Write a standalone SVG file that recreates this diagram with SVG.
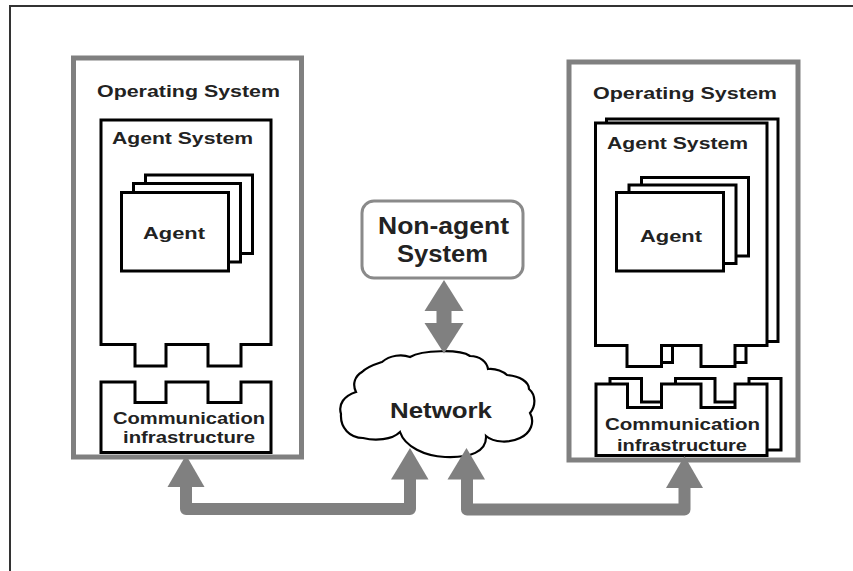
<svg xmlns="http://www.w3.org/2000/svg" width="853" height="571" viewBox="0 0 853 571">
<style>
.os{fill:#fff;stroke:#808080;stroke-width:5}
.blk{fill:#fff;stroke:#000;stroke-width:3}
.t{font-family:"Liberation Sans",Arial,sans-serif;font-weight:bold;fill:#222}
.s16{font-size:16px}
.s17{font-size:17px}
.s22{font-size:22px}
.s23{font-size:23px}
.ar{fill:#808080;stroke:none}
.sh{fill:none;stroke:#808080;stroke-width:12;stroke-linejoin:round}
</style>
<defs>
<path id="asys" d="M0,0 H171.5 V222.5 H139.5 V243.5 H105.5 V222.5 H66 V243.5 H31.5 V222.5 H0 Z"/>
<path id="comm" d="M0,0 H31.5 V23.5 H65.5 V0 H105 V23.5 H139 V0 H171 V71.5 H0 Z"/>
</defs>
<rect x="0" y="0" width="853" height="571" fill="#fff"/>
<g id="frame">
<path d="M10,571 V6 H853" fill="none" stroke="#333" stroke-width="2"/>
</g>

<g id="os-left">
<rect class="os" x="73.5" y="58" width="228" height="399"/>
<text class="t s16" x="97" y="97" textLength="183" lengthAdjust="spacingAndGlyphs">Operating System</text>
</g>
<g id="agent-system-left">
<path class="blk" d="M101,120 H271 V344.5 H241 V366 H208 V344.5 H166 V366 H135 V344.5 H101 Z"/>
<text class="t s16" x="112" y="143.5" textLength="141" lengthAdjust="spacingAndGlyphs">Agent System</text>
</g>
<g id="agent-left">
<rect class="blk" x="145.5" y="175" width="107" height="78.5"/>
<rect class="blk" x="133.5" y="183.5" width="107" height="78.5"/>
<rect class="blk" x="121.5" y="192.5" width="107" height="78.5"/>
<text class="t s17" x="143" y="238.5" textLength="62" lengthAdjust="spacingAndGlyphs">Agent</text>
</g>
<g id="comm-left">
<path class="blk" d="M101,382 H135 V402.5 H166 V382 H208 V402.5 H241 V382 H271 V452.5 H101 Z"/>
<text class="t s16" x="113" y="423.5" textLength="152" lengthAdjust="spacingAndGlyphs">Communication</text>
<text class="t s16" x="123" y="443" textLength="132" lengthAdjust="spacingAndGlyphs">infrastructure</text>
</g>

<g id="os-right">
<rect class="os" x="569" y="62" width="229" height="398"/>
<text class="t s16" x="593" y="98.5" textLength="184" lengthAdjust="spacingAndGlyphs">Operating System</text>
</g>
<g id="agent-system-right">
<use href="#asys" class="blk" x="606.5" y="119"/>
<use href="#asys" class="blk" x="595.5" y="123"/>
<text class="t s16" x="607" y="148.5" textLength="141" lengthAdjust="spacingAndGlyphs">Agent System</text>
</g>
<g id="agent-right">
<rect class="blk" x="641.5" y="177.5" width="107" height="78.5"/>
<rect class="blk" x="629" y="185" width="107" height="78.5"/>
<rect class="blk" x="616.5" y="192.5" width="107" height="78.5"/>
<text class="t s17" x="640" y="242" textLength="62" lengthAdjust="spacingAndGlyphs">Agent</text>
</g>
<g id="comm-right">
<use href="#comm" class="blk" x="610" y="378.5"/>
<use href="#comm" class="blk" x="596" y="384"/>
<text class="t s16" x="605" y="430" textLength="155" lengthAdjust="spacingAndGlyphs">Communication</text>
<text class="t s16" x="617" y="450.5" textLength="130" lengthAdjust="spacingAndGlyphs">infrastructure</text>
</g>

<g id="non-agent">
<rect x="362" y="201" width="161" height="77" rx="12" fill="#fff" stroke="#8a8a8a" stroke-width="3"/>
<text class="t s23" x="378" y="233.5" textLength="131" lengthAdjust="spacingAndGlyphs">Non-agent</text>
<text class="t s23" x="397" y="261.5" textLength="91" lengthAdjust="spacingAndGlyphs">System</text>
</g>

<g id="network">
<path d="M382,362 C390,355 402,354 410,357 C422,350 460,349 470,356 C480,356 487,362 488,369 C496,368 504,372 507,375 C520,376 529,382 529,389 C536,395 536,406 530,413 C535,422 531,433 520,438 C510,443 494,443 486,436 C487,452 470,458 445,457 C425,456 405,447 400,432 C392,440 375,441 363,438 C350,438 340,428 341,414 C338,404 344,396 356,392 C352,384 355,376 362,372 C368,366 376,364 382,362 Z" fill="#fff" stroke="#000" stroke-width="2.2"/>
<text class="t s22" x="390" y="417.5" textLength="102" lengthAdjust="spacingAndGlyphs">Network</text>
</g>

<g id="connectors">
<rect class="ar" x="436.5" y="309" width="15" height="16"/>
<polygon class="ar" points="444,280 424.5,311 463.5,311"/>
<polygon class="ar" points="444,353.5 424.5,323 463.5,323"/>
<path class="sh" d="M186,485 V509 H410 V478"/>
<polygon class="ar" points="186,455 167.5,487 204.5,487"/>
<polygon class="ar" points="410,448 391,479.5 428.5,479.5"/>
<path class="sh" d="M467,478 V509.5 H684.5 V486"/>
<polygon class="ar" points="466.5,448 447.5,479.5 485,479.5"/>
<polygon class="ar" points="684.5,456 666,488 703,488"/>
</g>
</svg>
